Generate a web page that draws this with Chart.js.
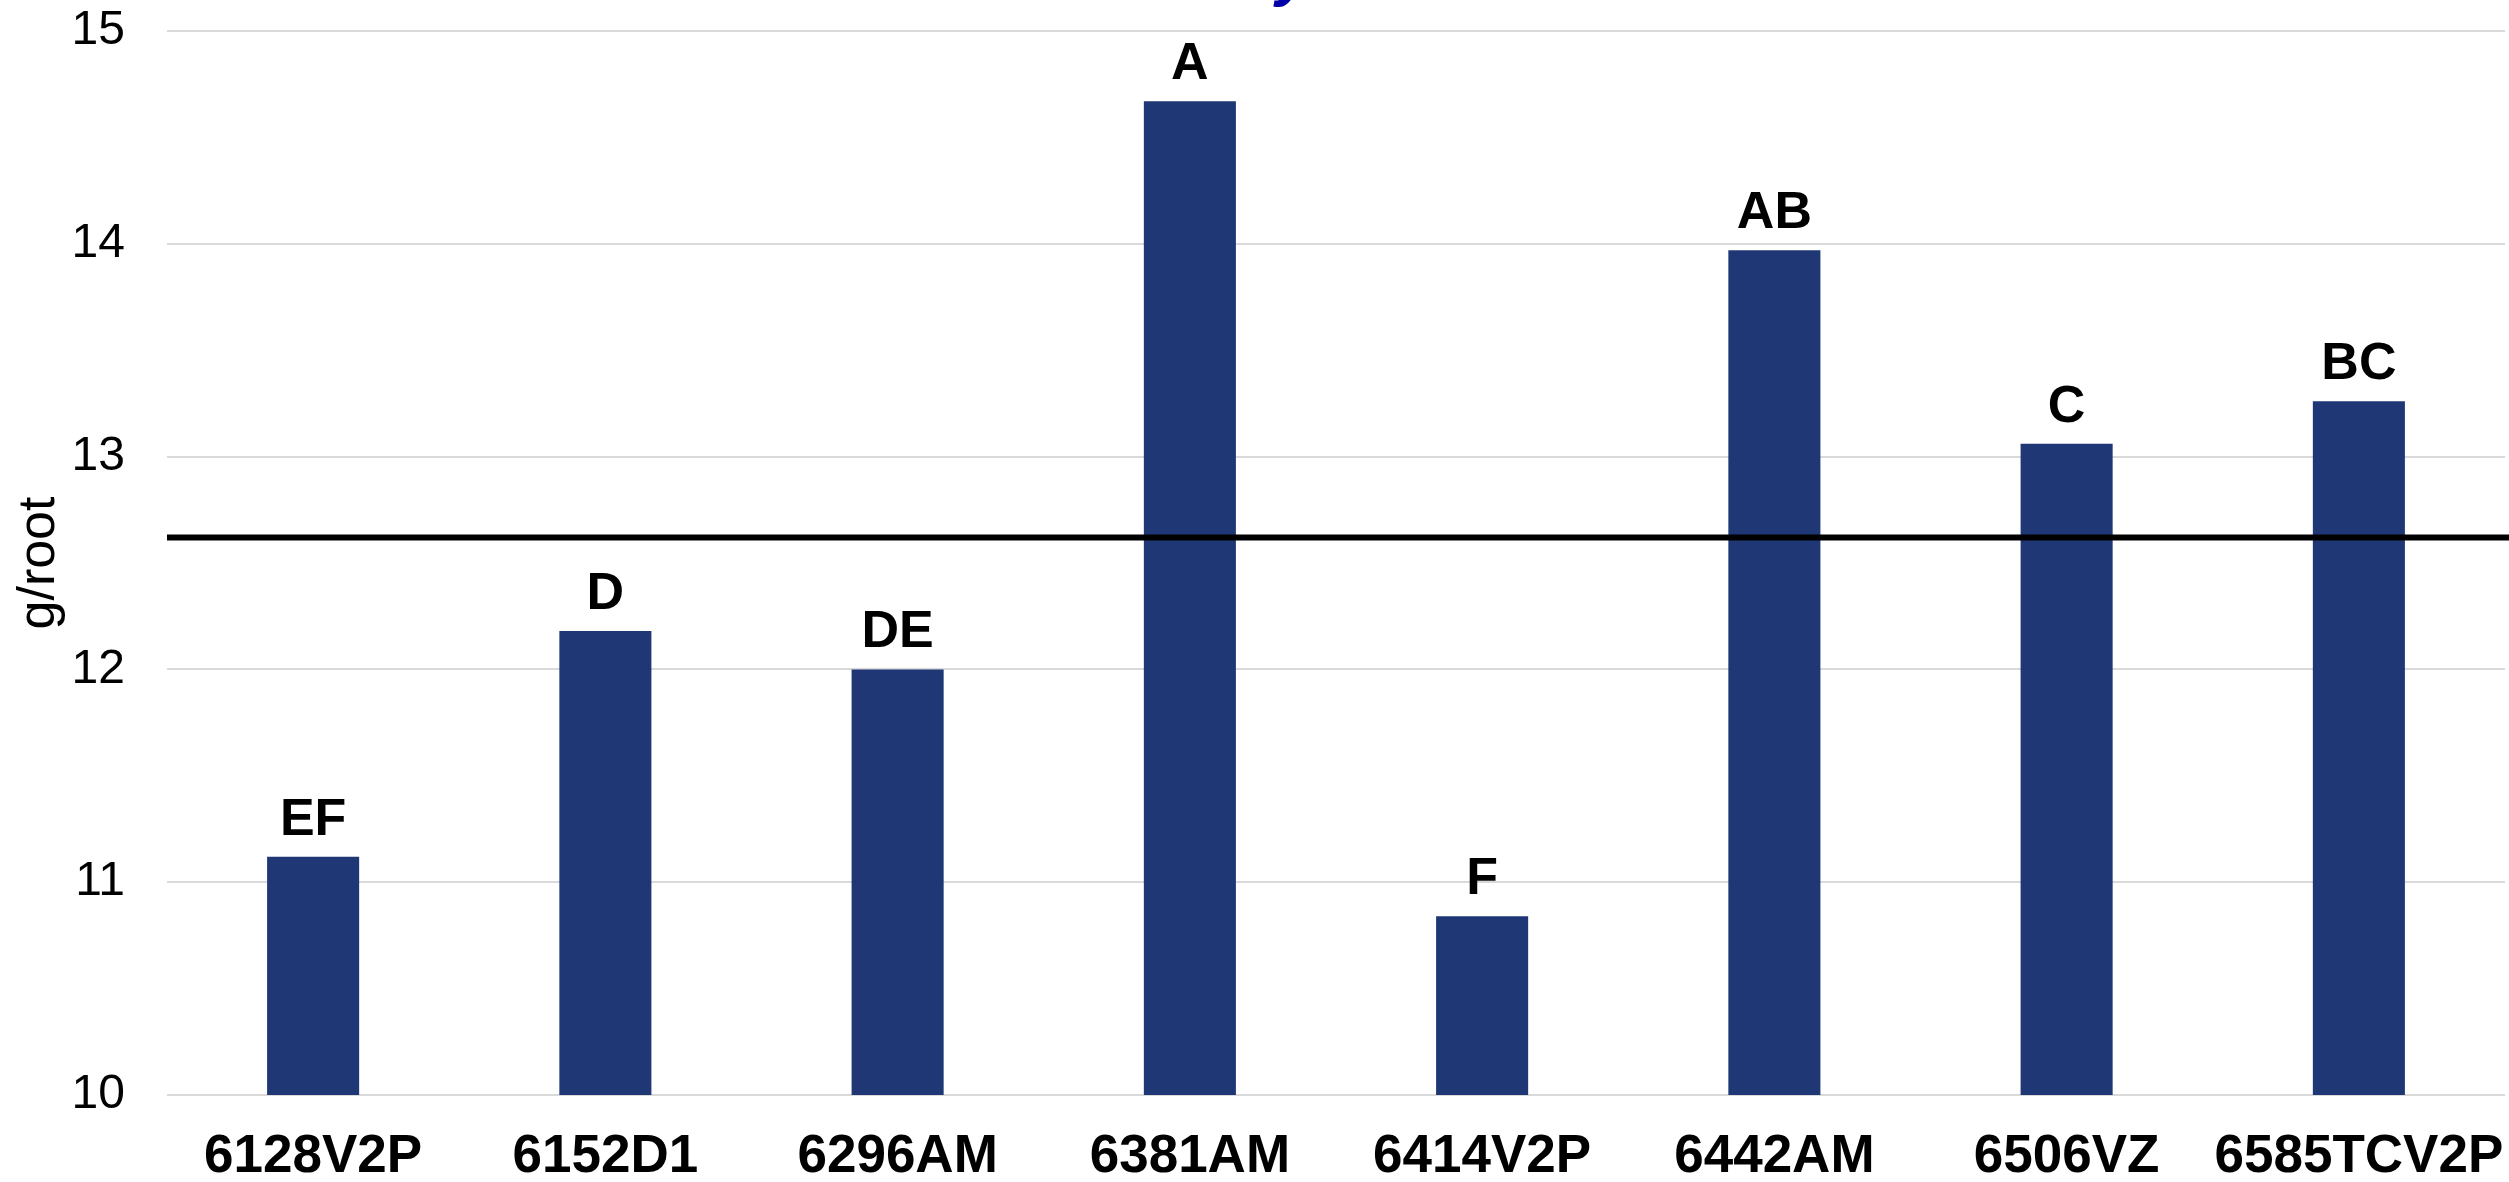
<!DOCTYPE html>
<html>
<head>
<meta charset="utf-8">
<script src="https://cdn.jsdelivr.net/npm/chart.js@4.4.1/dist/chart.umd.min.js"></script>
<style>
  html, body { margin: 0; padding: 0; background: #ffffff; overflow: hidden; }
  #wrap { width: 2509px; height: 1182px; position: relative; }
  canvas { display: block; }
</style>
</head>
<body>
<div id="wrap"><canvas id="c" width="2509" height="1182"></canvas></div>
<script>
// ---- data ----
const categories = ['6128V2P', '6152D1', '6296AM', '6381AM', '6414V2P', '6442AM', '6506VZ', '6585TCV2P'];
const rootWeights = [11.12, 12.18, 12.00, 14.67, 10.84, 13.97, 13.06, 13.26];
const groupLetters = ['EF', 'D', 'DE', 'A', 'F', 'AB', 'C', 'BC'];
const meanValue = 12.62;
const yAxisTitle = 'g/root';
const chartTitle = 'Root Dry Mass';
const yMin = 10, yMax = 15, yStep = 1;

const FONT = '"Liberation Sans", Arial, Helvetica, sans-serif';

const letterPlugin = {
  id: 'letters',
  afterDatasetsDraw(chart) {
    const ctx = chart.ctx;
    const meta = chart.getDatasetMeta(0);
    ctx.save();
    ctx.font = 'bold 52px ' + FONT;
    ctx.fillStyle = '#000000';
    ctx.textAlign = 'center';
    ctx.textBaseline = 'alphabetic';
    meta.data.forEach((bar, i) => {
      ctx.fillText(groupLetters[i], bar.x, bar.y - 22);
    });
    ctx.restore();
  }
};

const meanLinePlugin = {
  id: 'meanLine',
  afterDatasetsDraw(chart) {
    const ctx = chart.ctx;
    const y = chart.scales.y.getPixelForValue(meanValue);
    ctx.save();
    ctx.strokeStyle = '#000000';
    ctx.lineWidth = 6;
    ctx.beginPath();
    ctx.moveTo(chart.chartArea.left, y);
    ctx.lineTo(chart.width, y);
    ctx.stroke();
    ctx.restore();
  }
};

const cutTitlePlugin = {
  id: 'cutTitle',
  afterDraw(chart) {
    const ctx = chart.ctx;
    const fs = 64;
    ctx.save();
    ctx.font = 'italic bold ' + fs + 'px ' + FONT;
    ctx.fillStyle = '#0000A8';
    ctx.textAlign = 'left';
    ctx.textBaseline = 'alphabetic';
    const idx = chartTitle.indexOf('y');
    const pre = ctx.measureText(chartTitle.slice(0, idx)).width;
    const x0 = 1276 - pre;
    const base = 7 - 0.21 * fs;
    ctx.fillText(chartTitle, x0, base);
    ctx.restore();
  }
};

new Chart(document.getElementById('c'), {
  type: 'bar',
  data: {
    labels: categories,
    datasets: [{
      data: rootWeights,
      backgroundColor: '#1F3775',
      borderWidth: 0,
      categoryPercentage: 1.0,
      barPercentage: 0.315
    }]
  },
  options: {
    responsive: false,
    animation: false,
    devicePixelRatio: 1,
    layout: { padding: { top: 31, right: 4, bottom: 0, left: 0 } },
    plugins: {
      legend: { display: false },
      tooltip: { enabled: false },
      title: { display: false }
    },
    scales: {
      x: {
        offset: true,
        grid: { display: false, drawTicks: false },
        border: { display: false },
        afterFit(scale) {
          scale.height = 87;
          scale.paddingLeft = 0;
          scale.paddingRight = 0;
        },
        ticks: {
          color: '#000000',
          padding: 36,
          maxRotation: 0,
          autoSkip: false,
          font: { family: FONT, size: 53, weight: 'bold', lineHeight: 1.0 }
        }
      },
      y: {
        min: yMin,
        max: yMax,
        grid: { color: '#d9d9d9', lineWidth: 2, drawTicks: false },
        border: { display: false },
        afterFit(scale) {
          scale.width = 167;
          scale.paddingTop = 0;
          scale.paddingBottom = 0;
        },
        ticks: {
          stepSize: yStep,
          color: '#000000',
          padding: 42,
          font: { family: FONT, size: 48 }
        },
        title: {
          display: true,
          text: yAxisTitle,
          color: '#000000',
          padding: { top: 8, bottom: 1 },
          font: { family: FONT, size: 52, lineHeight: 1.2 }
        }
      }
    }
  },
  plugins: [letterPlugin, meanLinePlugin, cutTitlePlugin]
});
</script>
</body>
</html>
